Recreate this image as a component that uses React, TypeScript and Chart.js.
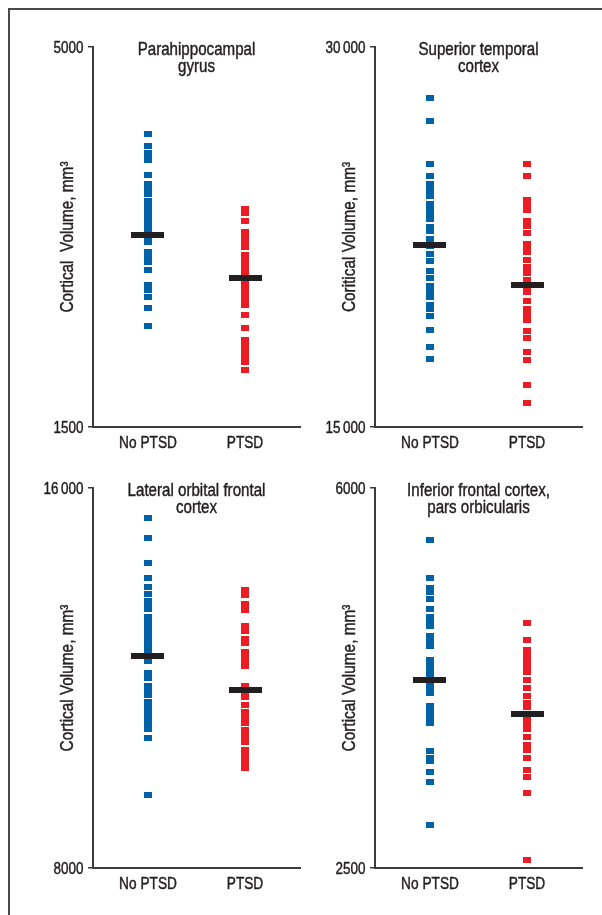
import React, { useEffect, useRef } from 'react';
import { Chart, registerables } from 'chart.js';

Chart.register(...registerables);

// ---------- data ----------
const categories = ['No PTSD', 'PTSD'];

const parahippoTicks = [1500, 5000];
const parahippoNoPtsd = [4199, 4097, 4024, 3991, 3962, 3830, 3747, 3701, 3655, 3588, 3563, 3499, 3462, 3407, 3379, 3324, 3268, 3207, 3115, 3066, 3020, 2949, 2817, 2765, 2700, 2605, 2433];
const parahippoPtsd = [3517, 3474, 3400, 3299, 3250, 3204, 3161, 3087, 3035, 2983, 2934, 2891, 2826, 2771, 2722, 2673, 2626, 2534, 2412, 2304, 2252, 2194, 2136, 2099, 2028];
const parahippoMeans = [3271, 2874];

const supTempTicks = [15000, 30000];
const supTempNoPtsd = [28015, 27079, 25421, 24908, 24620, 24460, 24300, 24146, 23842, 23633, 23420, 23222, 22907, 22749, 22449, 22184, 21857, 21553, 21158, 20893, 20578, 20357, 20132, 19855, 19697, 19409, 18868, 18170, 17696];
const supTempPtsd = [25394, 24908, 23988, 23724, 23566, 23132, 22946, 22658, 22236, 22038, 21908, 21620, 21328, 21079, 20842, 20605, 20357, 19974, 19686, 19461, 19251, 18790, 18525, 17961, 17672, 16686, 15975];
const supTempMeans = [22180, 20610];

const latOrbTicks = [8000, 16000];
const latOrbNoPtsd = [15383, 14962, 14436, 14120, 13916, 13783, 13642, 13537, 13453, 13305, 13221, 13074, 12954, 12836, 12716, 12596, 12463, 12358, 12126, 12021, 11832, 11726, 11663, 11495, 11375, 11257, 11137, 11011, 10947, 10752, 9552];
const latOrbPtsd = [13853, 13768, 13573, 13432, 13095, 12990, 12842, 12737, 12568, 12463, 12400, 12253, 11832, 11747, 11621, 11432, 11305, 11179, 11053, 10926, 10800, 10653, 10505, 10358, 10238, 10126];
const latOrbMeans = [12470, 11747];

const infFrontTicks = [2500, 6000];
const infFrontNoPtsd = [5530, 5180, 5088, 5051, 4978, 4892, 4812, 4766, 4729, 4646, 4609, 4551, 4425, 4379, 4342, 4278, 4232, 4195, 4167, 4112, 4001, 3946, 3891, 3836, 3584, 3522, 3486, 3393, 3301, 2905];
const infFrontPtsd = [4763, 4609, 4517, 4480, 4416, 4367, 4314, 4232, 4158, 4093, 4020, 3983, 3918, 3882, 3836, 3783, 3709, 3642, 3587, 3516, 3403, 3347, 3191, 2580];
const infFrontMeans = [4232, 3918];

// ---------- styles ----------
const FONT = '"Liberation Sans", Arial, sans-serif';
const NARROW = 0.84; // horizontal squeeze to imitate a condensed face
const TEXT = '#231f20';
const AXIS = '#3c3c3c';
const BLUE = '#0062a6';
const RED = '#ed1c24';
const BAR = '#231f20';

function fmtTick(v: number): string {
  if (v >= 10000) {
    const s = String(v);
    return s.slice(0, s.length - 3) + '\u2009' + s.slice(s.length - 3);
  }
  return String(v);
}

function makeMarker(color: string, w: number, h: number, whiteTop: boolean) {
  const c = document.createElement('canvas');
  c.width = w;
  c.height = h + (whiteTop ? 1 : 0);
  const g = c.getContext('2d')!;
  if (whiteTop) {
    g.fillStyle = '#ffffff';
    g.fillRect(0, 0, w, 1);
  }
  g.fillStyle = color;
  g.fillRect(0, whiteTop ? 1 : 0, w, h);
  return c;
}

type PanelCfg = {
  left: number; top: number; w: number; h: number;
  padTop: number; padRight: number; yAxisW: number; xAxisH: number;
  title: string[]; ylabel: string;
  ticks: number[]; noPtsd: number[]; ptsd: number[]; means: number[];
};

const panels: PanelCfg[] = [
  { left: 10, top: 10, w: 300, h: 450, padTop: 37, padRight: 10, yAxisW: 83, xAxisH: 33,
    title: ['Parahippocampal', 'gyrus'], ylabel: 'Cortical  Volume, mm\u00b3',
    ticks: parahippoTicks, noPtsd: parahippoNoPtsd, ptsd: parahippoPtsd, means: parahippoMeans },
  { left: 310, top: 10, w: 290, h: 450, padTop: 37, padRight: 18, yAxisW: 65, xAxisH: 33,
    title: ['Superior temporal', 'cortex'], ylabel: 'Coritical Volume, mm\u00b3',
    ticks: supTempTicks, noPtsd: supTempNoPtsd, ptsd: supTempPtsd, means: supTempMeans },
  { left: 10, top: 460, w: 300, h: 450, padTop: 28, padRight: 10, yAxisW: 83, xAxisH: 42,
    title: ['Lateral orbital frontal', 'cortex'], ylabel: 'Cortical Volume, mm\u00b3',
    ticks: latOrbTicks, noPtsd: latOrbNoPtsd, ptsd: latOrbPtsd, means: latOrbMeans },
  { left: 310, top: 460, w: 290, h: 450, padTop: 28, padRight: 18, yAxisW: 65, xAxisH: 42,
    title: ['Inferior frontal cortex,', 'pars orbicularis'], ylabel: 'Cortical Volume, mm\u00b3',
    ticks: infFrontTicks, noPtsd: infFrontNoPtsd, ptsd: infFrontPtsd, means: infFrontMeans },
];

function narrowText(ctx: CanvasRenderingContext2D, text: string, x: number, y: number,
  size: number, align: CanvasTextAlign, rotate = false) {
  ctx.save();
  ctx.translate(x, y);
  if (rotate) ctx.rotate(-Math.PI / 2);
  ctx.scale(NARROW, 1);
  ctx.font = `${size}px ${FONT}`;
  ctx.textAlign = align;
  ctx.textBaseline = 'alphabetic';
  ctx.fillStyle = TEXT;
  ctx.strokeStyle = TEXT;
  ctx.lineWidth = 0.45;
  ctx.lineJoin = 'round';
  ctx.fillText(text, 0, 0);
  ctx.strokeText(text, 0, 0);
  ctx.restore();
}

function makeTextPlugin(cfg: PanelCfg) {
  return {
    id: 'panelText',
    beforeDatasetsDraw(chart: any) {
      chart.ctx.imageSmoothingEnabled = false;
    },
    afterDatasetsDraw(chart: any) {
      chart.ctx.imageSmoothingEnabled = true;
    },
    afterDraw(chart: any) {
      const { ctx, chartArea, scales } = chart;
      const cx = (chartArea.left + chartArea.right) / 2;
      cfg.title.forEach((line, i) => narrowText(ctx, line, cx, chartArea.top + 8 + i * 17, 18, 'center'));
      narrowText(ctx, cfg.ylabel, chartArea.left - 20, (chartArea.top + chartArea.bottom) / 2, 18.3, 'center', true);
      // y tick labels, positioned by the y scale
      cfg.ticks.forEach((v) => {
        const py = scales.y.getPixelForValue(v);
        narrowText(ctx, fmtTick(v), chartArea.left - 9.5, py + 5.8, 16, 'right');
      });
      // x category labels, positioned by the x scale
      categories.forEach((c, i) => {
        const px = scales.x.getPixelForValue(i);
        narrowText(ctx, c, px, chartArea.bottom + 21.3, 16.3, 'center');
      });
    },
  };
}

function Panel({ cfg }: { cfg: PanelCfg }) {
  const ref = useRef<HTMLCanvasElement>(null);
  useEffect(() => {
    const blueImg = makeMarker(BLUE, 8, 6, true);
    const redImg = makeMarker(RED, 8, 6, true);
    const barImg = makeMarker(BAR, 33, 6, false);
    const asc = (a: number[]) => [...a].sort((p, q) => p - q);
    const chart = new Chart(ref.current!, {
      type: 'scatter',
      data: {
        datasets: [
          { data: cfg.means.map((m, i) => ({ x: i, y: m })), pointStyle: barImg as any, pointRadius: 5 },
          { data: asc(cfg.noPtsd).map((v) => ({ x: 0, y: v })), pointStyle: blueImg as any, pointRadius: 4 },
          { data: asc(cfg.ptsd).map((v) => ({ x: 1, y: v })), pointStyle: redImg as any, pointRadius: 4 },
        ],
      },
      options: {
        responsive: false,
        animation: false,
        events: [],
        layout: { padding: { top: cfg.padTop, right: cfg.padRight, bottom: 0, left: 0 } },
        plugins: { legend: { display: false }, tooltip: { enabled: false } },
        scales: {
          x: {
            type: 'linear',
            min: -0.567,
            max: 1.567,
            afterBuildTicks: (s: any) => { s.ticks = [{ value: 0 }, { value: 1 }]; },
            afterFit: (s: any) => { s.height = cfg.xAxisH; },
            grid: { display: false },
            border: { display: true, color: AXIS, width: 2 },
            ticks: {
              callback: (v: any) => categories[v],
              font: { family: FONT, size: 16 },
              color: 'rgba(0,0,0,0)',
              padding: 6,
              maxRotation: 0,
              autoSkip: false,
            },
          },
          y: {
            type: 'linear',
            min: cfg.ticks[0],
            max: cfg.ticks[1],
            afterBuildTicks: (s: any) => { s.ticks = cfg.ticks.map((v) => ({ value: v })); },
            afterFit: (s: any) => { s.width = cfg.yAxisW; },
            grid: { drawOnChartArea: false, drawTicks: true, tickLength: 5, color: AXIS, lineWidth: 1.5 },
            border: { display: true, color: AXIS, width: 2 },
            ticks: {
              callback: (v: any) => fmtTick(v),
              font: { family: FONT, size: 16 },
              color: 'rgba(0,0,0,0)',
              padding: 4,
              autoSkip: false,
            },
          },
        },
      },
      plugins: [makeTextPlugin(cfg)],
    } as any);
    return () => chart.destroy();
  }, [cfg]);
  return (
    <canvas
      ref={ref}
      width={cfg.w}
      height={cfg.h}
      style={{ position: 'absolute', left: cfg.left, top: cfg.top, width: cfg.w, height: cfg.h }}
    />
  );
}

export default function App() {
  return (
    <div style={{ position: 'fixed', left: 0, top: 0, width: 602, height: 915, overflow: 'hidden', background: '#fff' }}>
      <div
        style={{
          position: 'absolute',
          left: 8,
          top: 8,
          width: 620,
          height: 930,
          borderLeft: '2px solid #4a4a4a',
          borderTop: '2px solid #4a4a4a',
        }}
      />
      {panels.map((p, i) => (
        <Panel key={i} cfg={p} />
      ))}
    </div>
  );
}
